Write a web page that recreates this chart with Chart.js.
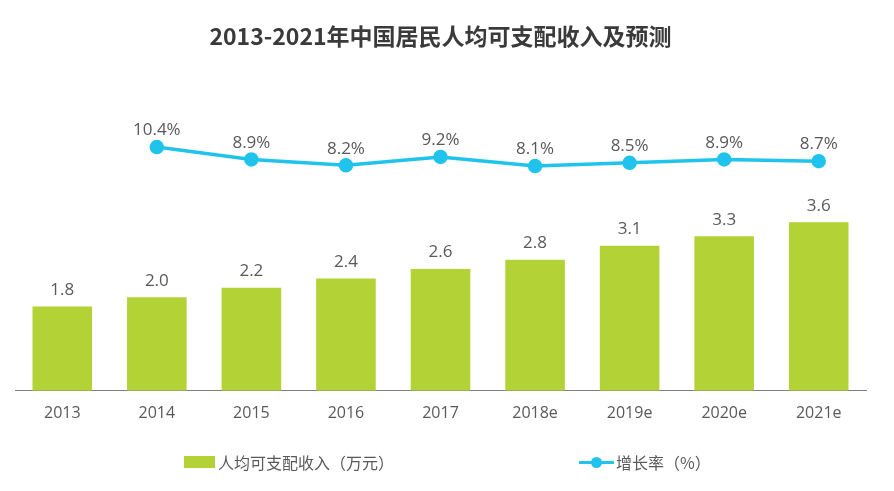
<!DOCTYPE html>
<html>
<head>
<meta charset="utf-8">
<script src="https://cdn.jsdelivr.net/npm/chart.js@4"></script>
<style>
  html, body { margin: 0; padding: 0; background: #fff; }
  #wrap { position: relative; width: 894px; height: 491px; }
  #legend { position: absolute; top: 451px; left: 0; width: 894px; height: 22px;
    font-family: "Noto Sans CJK SC", sans-serif; font-size: 16px; color: #595959; }
  .item { position: absolute; top: 0; display: flex; align-items: center; height: 22px; }
  .box { width: 31px; height: 12px; background: #b2d235; margin-right: 3px; }
  .ln { position: relative; width: 35px; height: 3px; background: #1fc3ec; margin-right: 2px; }
  .ln::after { content: ""; position: absolute; left: 12px; top: -4px; width: 11px; height: 11px;
    border-radius: 50%; background: #1fc3ec; }
</style>
</head>
<body>
<div id="wrap">
  <canvas id="chart" width="894" height="491"></canvas>
  <div id="legend">
    <div class="item" style="left:184px"><span class="box"></span>人均可支配收入（万元）</div>
    <div class="item" style="left:579px"><span class="ln"></span>增长率（%）</div>
  </div>
</div>
<script>
// --- data ---
const years = ["2013", "2014", "2015", "2016", "2017", "2018e", "2019e", "2020e", "2021e"];
const income = [1.8, 2.0, 2.2, 2.4, 2.6, 2.8, 3.1, 3.3, 3.6];
const growth = [null, 10.4, 8.9, 8.2, 9.2, 8.1, 8.5, 8.9, 8.7];

// draws the value above each bar / point
const valueLabels = {
  id: "valueLabels",
  afterDatasetsDraw(chart) {
    const ctx = chart.ctx;
    ctx.save();
    ctx.font = "17px 'Open Sans', 'Noto Sans', sans-serif";
    ctx.fillStyle = "#595959";
    ctx.textAlign = "center";
    ctx.textBaseline = "bottom";
    chart.data.datasets.forEach((ds, i) => {
      const meta = chart.getDatasetMeta(i);
      meta.data.forEach((el, j) => {
        const v = ds.data[j];
        if (v == null) return;
        const txt = ds.type === "line" ? v.toFixed(1) + "%" : v.toFixed(1);
        ctx.fillText(txt, el.x, el.y - 8);
      });
    });
    ctx.restore();
  }
};

new Chart(document.getElementById("chart"), {
  data: {
    labels: years,
    datasets: [
      {
        type: "line",
        label: "增长率（%）",
        data: growth,
        yAxisID: "yLine",
        borderColor: "#1fc3ec",
        backgroundColor: "#1fc3ec",
        borderWidth: 3.5,
        pointRadius: 5.5,
        pointHoverRadius: 5.5,
        tension: 0,
        order: 0
      },
      {
        type: "bar",
        label: "人均可支配收入（万元）",
        data: income,
        yAxisID: "yBar",
        backgroundColor: "#b2d235",
        categoryPercentage: 1,
        barPercentage: 0.63,
        order: 1
      }
    ]
  },
  options: {
    responsive: false,
    animation: false,
    layout: { padding: { left: 15, right: 28, top: 0, bottom: 55 } },
    plugins: {
      legend: { display: false },
      tooltip: { enabled: false },
      title: {
        display: true,
        text: "2013-2021年中国居民人均可支配收入及预测",
        color: "#3a3a3a",
        font: { family: "'Noto Sans CJK SC', sans-serif", size: 23, weight: "bold" },
        padding: { top: 22, bottom: 51 }
      }
    },
    scales: {
      x: {
        grid: { display: false, drawTicks: false },
        border: { color: "#7f7f7f", width: 1 },
        ticks: {
          color: "#595959",
          font: { family: "'Open Sans', 'Noto Sans', sans-serif", size: 16 },
          padding: 13
        }
      },
      yBar: { display: false, min: 0, max: 6.2 },
      yLine: { display: false, min: -19, max: 16 }
    }
  },
  plugins: [valueLabels]
});
</script>
</body>
</html>
